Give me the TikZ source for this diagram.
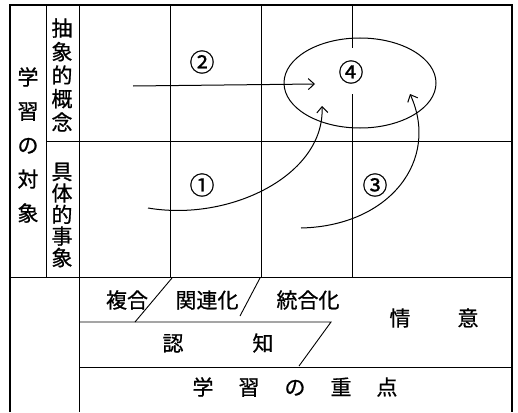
\documentclass[tikz,border=0pt]{standalone}
\usepackage{fontspec}
\setmainfont{Noto Sans CJK JP}[FakeBold=0.8]
\usetikzlibrary{arrows.meta,shapes.geometric}
\tikzset{
  grid/.style={line width=0.9pt},
  frame/.style={line width=1.3pt},
  lbl/.style={inner sep=0pt, font=\fontsize{21}{24}\selectfont},
  vcol/.style={inner sep=0pt, align=center, font=\fontsize{21}{#1}\selectfont},
  num/.style={inner sep=0pt, font=\fontsize{25}{28}\selectfont},
  arr/.style={line width=1pt, -{Straight Barb[length=6pt,width=11pt,line width=1pt]}},
}
\begin{document}
\begin{tikzpicture}[x=1pt,y=-1pt]
\useasboundingbox (0,0) rectangle (518,412);
% outer frame (no bottom line)
\draw[frame] (10,412) -- (10,5) -- (512,5) -- (512,412);
% column lines
\draw[grid] (46,5) -- (46,277);
\draw[grid] (79,5) -- (79,412);
\draw[grid] (170,5) -- (170,277);
\draw[grid] (261,5) -- (261,277);
\draw[grid] (352,5) -- (352,48);
\draw[grid] (352,94) -- (352,277);
% row lines
\draw[grid] (46,141) -- (512,141);
\draw[grid] (10,277) -- (512,277);
\draw[grid] (79,322) -- (331,322) -- (299,366);
\draw[grid] (79,367) -- (512,367);
% slashes
\draw[grid] (172,278) -- (135,322);
\draw[grid] (260,278) -- (240,316);
% vertical labels
\node[vcol=34] (obj) at (28,145) {学\\習\\の\\対\\象};
\node[vcol=23.5] (abs) at (62,75) {抽\\象\\的\\概\\念};
\node[vcol=21.5] (con) at (62,215) {具\\体\\的\\事\\象};
% ellipse
\node[draw, ellipse, line width=1pt, minimum width=152pt, minimum height=90pt, inner sep=0pt] (ell) at (360,83) {};
% numbers
\node[num] (n2) at (202,62) {②};
\node[num] (n1) at (202,185) {①};
\node[num] (n4) at (351,72) {④};
\node[num] (n3) at (375,185) {③};
% arrows
\coordinate (a2s) at (133,86);
\coordinate (a2e) at (315,84);
\coordinate (a1s) at (148,208);
\coordinate (a1e) at (322,106);
\coordinate (a3s) at (301,228);
\coordinate (a3e) at (410,94);
\draw[arr] (a2s) -- (a2e);
\draw[arr] (a1s) .. controls (230,222) and (325,175) .. (a1e);
\draw[arr] (a3s) .. controls (390,226) and (440,160) .. (a3e);
% bottom labels
\node[lbl] (fk) at (127,300) {複合};
\node[lbl] (kr) at (207,300) {関連化};
\node[lbl] (tg) at (308,300) {統合化};
\node[lbl] (nc) at (218,343) {認\hspace{69pt}知};
\node[lbl] (jy) at (434,318) {情\hspace{47pt}意};
\node[lbl] (jt) at (295,387) {学\hspace{25pt}習\hspace{25pt}の\hspace{25pt}重\hspace{25pt}点};
\end{tikzpicture}
\end{document}
